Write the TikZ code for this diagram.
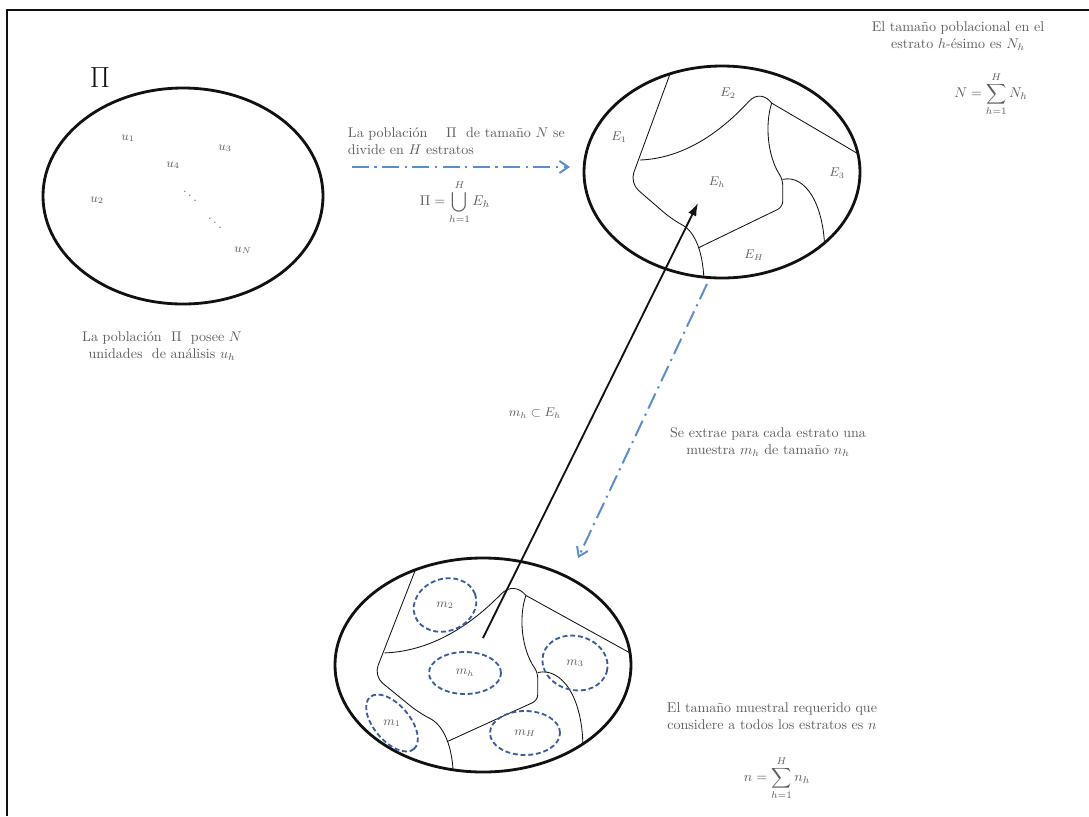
\documentclass[tikz,border=0pt]{standalone}
\usepackage{fontspec}
\usepackage{amsmath,amssymb}
\usetikzlibrary{arrows.meta,shapes.geometric}
\definecolor{ink}{HTML}{111111}
\definecolor{muted}{HTML}{5C5C5C}
\definecolor{flow}{HTML}{5B8CCB}
\definecolor{samp}{HTML}{3A5C9E}
\tikzset{
  set/.style={ellipse,draw=ink,line width=2pt,inner sep=0pt},
  part/.style={draw=ink,line width=.6pt},
  smp/.style={ellipse,draw=samp,line width=1.3pt,dash pattern=on 3.5pt off 2pt,inner sep=0pt},
  plain/.style={align=center,font=\normalsize,text=muted},
  lab/.style={font=\small,text=muted},
  ar/.style={-{Latex[length=3.2mm,width=2.2mm]},draw=ink,line width=1.3pt},
  arb/.style={-{Straight Barb[length=2.2mm,width=3mm]},draw=flow,line width=1.4pt,dash pattern=on 12pt off 4pt on 1.5pt off 4pt},
  strata/.pic={
    \draw[part,rounded corners=8pt] (-0.35,-1.02) -- (-0.667,0.104) -- (-0.36,0.45)
      .. controls (-0.2,0.56) and (-0.13,0.75) .. (-0.13,1.08);
    \draw[part] (-0.594,-0.113) .. controls (-0.25,-0.13) and (0.02,-0.42) .. (0.19,-0.66)
      .. controls (0.25,-0.75) and (0.32,-0.72) .. (0.36,-0.65);
    \draw[part] (0.36,-0.65) -- (1.08,-0.10);
    \draw[part,rounded corners=4pt] (0.36,-0.65) .. controls (0.31,-0.45) and (0.33,-0.15) .. (0.44,0.07)
      -- (0.44,0.33) -- (-0.174,0.717);
    \draw[part] (0.44,0.07) .. controls (0.6,0.02) and (0.75,0.3) .. (0.745,0.8);
  },
}
\begin{document}
\begin{tikzpicture}[x=0.25mm,y=-0.25mm]
  \useasboundingbox (0,0) rectangle (1089,816);
  \draw[ink,line width=1.5pt] (1089,10) -- (7,10) -- (7,816);

  % poblacion
  \node[font=\huge,text=ink] (pi) at (100,78) {$\Pi$};
  \node[set,minimum width=70mm,minimum height=54mm] (pop) at (183,196) {};
  \node[lab] (u1) at (128,138) {$u_1$};
  \node[lab] (u3) at (225,148) {$u_3$};
  \node[lab] (u4) at (173,165) {$u_4$};
  \node[lab] (u2) at (97,200) {$u_2$};
  \node[lab] (uN) at (243,250) {$u_N$};
  \node[lab] (dt1) at (190,192) {$\ddots$};
  \node[lab] (dt2) at (215,219) {$\ddots$};
  \node[plain] (popcap) at (162,346) {La población \ $\Pi$ \ posee $N$\\unidades \ de análisis $u_h$};

  % estratos
  \node[set,minimum width=69mm,minimum height=53mm] (strat) at (722,172) {};
  \begin{scope}[shift={(strat.center)},x=34.5mm,y=-26.5mm]
    \clip (0,0) ellipse [x radius=1,y radius=1];
    \pic {strata};
  \end{scope}
  \node[lab] (e1) at (619,137) {$E_1$};
  \node[lab] (e2) at (728,93) {$E_2$};
  \node[lab] (e3) at (837,173) {$E_3$};
  \node[lab] (eh) at (717,182) {$E_h$};
  \node[lab] (eH) at (754,255) {$E_H$};

  \node[plain,align=left,anchor=west] (divtxt) at (343,141) {La población \quad$\Pi$\ \ de tamaño $N$ se\\divide en $H$ estratos};
  \node[text=muted] (union) at (455,202) {$\displaystyle\Pi=\bigcup_{h=1}^{H}E_h$};
  \node[plain] (ntxt) at (958,36) {El tamaño poblacional en el\\estrato $h$-ésimo es $N_h$};
  \node[text=muted] (nsum) at (991,94) {$\displaystyle N=\sum_{h=1}^{H}N_h$};

  % muestra
  \node[set,minimum width=74mm,minimum height=53.5mm] (smpl) at (483,665) {};
  \begin{scope}[shift={(smpl.center)},x=37mm,y=-26.75mm]
    \clip (0,0) ellipse [x radius=1,y radius=1];
    \pic at (-0.07,0) {strata};
  \end{scope}
  \node[smp,minimum width=16mm,minimum height=13mm,rotate=20] (s2) at (445,605) {};
  \node[smp,minimum width=18mm,minimum height=10.5mm] (sh) at (465,673) {};
  \node[smp,minimum width=16.5mm,minimum height=13.5mm,rotate=-15] (s3) at (575,663) {};
  \node[smp,minimum width=17mm,minimum height=9mm,rotate=-50] (s1) at (392,723) {};
  \node[smp,minimum width=17.5mm,minimum height=11mm] (sH) at (525,733) {};
  \node[lab] at (s2) {$m_2$};
  \node[lab] at (sh) {$m_h$};
  \node[lab] at (s3) {$m_3$};
  \node[lab] at (s1) {$m_1$};
  \node[lab] at (sH) {$m_H$};

  \node[plain] (smtxt) at (768,442) {Se extrae para cada estrato una\\muestra $m_h$ de tamaño $n_h$};
  \node[lab] (incl) at (535,413) {$m_h\subset E_h$};
  \node[plain] (ntot) at (772,716) {El tamaño muestral requerido que\\considere a todos los estratos es $n$};
  \node[text=muted] (nsumb) at (777,778) {$\displaystyle n=\sum_{h=1}^{H}n_h$};

  % flechas
  \coordinate (a1s) at (352,167);
  \coordinate (a1e) at (570,167);
  \coordinate (a2s) at (707,284);
  \coordinate (a2e) at (578,558);
  \coordinate (incs) at (483,638);
  \coordinate (inct) at (698,203);
  \draw[arb] (a1s) -- (a1e);
  \draw[arb] (a2s) -- (a2e);
  \draw[ar] (incs) -- (inct);
\end{tikzpicture}
\end{document}
